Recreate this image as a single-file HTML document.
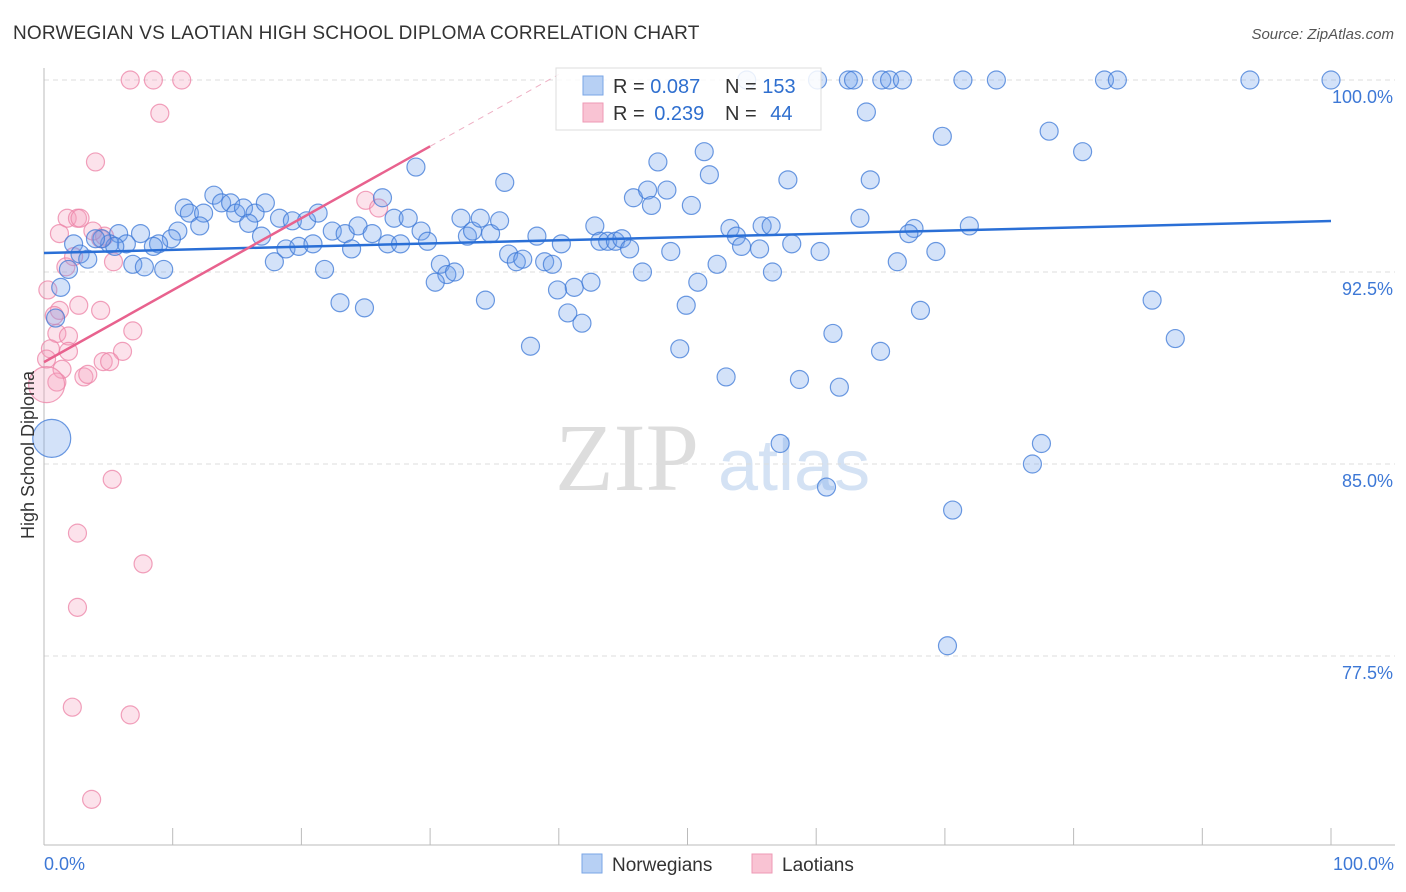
<!DOCTYPE html>
<html><head><meta charset="utf-8">
<style>
body{margin:0;background:#fff;font-family:"Liberation Sans",sans-serif;}
svg{display:block}
</style></head>
<body>
<svg id="chart" width="1406" height="892">
<text x="13" y="39" font-size="19" letter-spacing="0.2" fill="#333">NORWEGIAN VS LAOTIAN HIGH SCHOOL DIPLOMA CORRELATION CHART</text>
<text x="1394" y="39" font-size="15" fill="#555" font-style="italic" text-anchor="end">Source: ZipAtlas.com</text>
<g>
<text x="555" y="490" font-size="96" fill="#ddd" font-family="Liberation Serif,serif">ZIP</text>
<text x="718" y="490" font-size="72" fill="#d4e2f4">atlas</text>
</g>
<g id="grid"></g>
<g id="axes"></g>
<g id="pts"></g>
<g id="reg"></g>
<text x="34" y="455" font-size="18" fill="#333" text-anchor="middle" transform="rotate(-90 34 455)">High School Diploma</text>
<g>
<rect x="556" y="68" width="265" height="62" fill="#fff" fill-opacity="0.85" stroke="#ddd"/>
<rect x="583" y="76" width="20" height="19" fill="#b7d0f4" stroke="#7aa6e6"/>
<rect x="583" y="103" width="20" height="19" fill="#f9c3d3" stroke="#ee9ab5"/>
<text x="613" y="93" font-size="20" fill="#333">R = <tspan fill="#2f6fcf">0.087</tspan></text>
<text x="725" y="93" font-size="20" fill="#333">N = <tspan fill="#2f6fcf">153</tspan></text>
<text x="613" y="120" font-size="20" fill="#333">R = <tspan fill="#2f6fcf" dx="4">0.239</tspan></text>
<text x="725" y="120" font-size="20" fill="#333">N = <tspan fill="#2f6fcf" dx="8">44</tspan></text>
</g>
<g>
<rect x="582" y="854" width="20" height="19" fill="#b7d0f4" stroke="#7aa6e6"/>
<text x="612" y="871" font-size="19" fill="#333">Norwegians</text>
<rect x="752" y="854" width="20" height="19" fill="#f9c3d3" stroke="#ee9ab5"/>
<text x="782" y="871" font-size="19" fill="#333">Laotians</text>
</g>
</svg>
<script>
const yTicks=[100,92.5,85,77.5];
const yTickLabels=["100.0%","92.5%","85.0%","77.5%"];
const xTickLabels=["0.0%","100.0%"];
const blueX=[60.1,62.5,62.9,65.1,65.7,66.7,71.4,74.0,82.4,83.4,93.7,100,54.6,63.9,69.8,78.1,80.7,51.3,47.7,51.7,57.8,64.2,28.9,35.8,45.8,46.9,48.4,47.2,50.3,63.4,71.9,67.6,67.2,55.8,56.5,53.3,53.8,54.2,55.6,58.1,60.3,69.3,66.3,52.3,56.6,50.8,46.5,49.9,68.1,86.1,87.9,61.3,65.0,49.4,53.0,58.7,61.8,57.2,60.8,77.5,76.8,70.6,70.2,
10.9,11.3,12.4,13.2,13.8,14.5,14.9,15.5,16.4,17.2,15.9,16.9,18.3,19.3,20.4,21.3,12.1,10.4,9.9,8.9,8.5,7.5,5.8,6.4,5.1,5.5,4.5,4.0,2.3,2.8,3.4,1.9,1.3,0.9,0.6,6.9,7.8,9.3,17.9,18.8,19.8,20.9,21.8,22.4,23.4,23.9,24.4,25.5,26.3,26.7,27.2,27.7,28.3,29.3,29.8,30.8,31.3,31.9,30.4,23.0,24.9,32.4,32.9,33.3,33.9,34.7,35.4,36.1,36.7,37.2,38.3,38.9,39.5,40.2,39.9,40.7,41.2,41.8,42.5,42.8,43.2,43.8,44.4,44.9,45.5,48.7,34.3,37.8];
const blueY=[100,100,100,100,100,100,100,100,100,100,100,100,100,98.75,97.8,98.0,97.2,97.2,96.8,96.3,96.1,96.1,96.6,96.0,95.4,95.7,95.7,95.1,95.1,94.6,94.3,94.2,94.0,94.3,94.3,94.2,93.9,93.5,93.4,93.6,93.3,93.3,92.9,92.8,92.5,92.1,92.5,91.2,91.0,91.4,89.9,90.1,89.4,89.5,88.4,88.3,88.0,85.8,84.1,85.8,85.0,83.2,77.9,
95.0,94.8,94.8,95.5,95.2,95.2,94.8,95.0,94.8,95.2,94.4,93.9,94.6,94.5,94.5,94.8,94.3,94.1,93.8,93.6,93.5,94.0,94.0,93.6,93.6,93.5,93.8,93.8,93.6,93.2,93.0,92.6,91.9,90.7,86.0,92.8,92.7,92.6,92.9,93.4,93.5,93.6,92.6,94.1,94.0,93.4,94.3,94.0,95.4,93.6,94.6,93.6,94.6,94.1,93.7,92.8,92.4,92.5,92.1,91.3,91.1,94.6,93.9,94.1,94.6,94.0,94.5,93.2,92.9,93.0,93.9,92.9,92.8,93.6,91.8,90.9,91.9,90.5,92.1,94.3,93.7,93.7,93.7,93.8,93.4,93.3,91.4,89.6];
const blueBig=[86.0];
const pinkX=[6.7,8.5,10.7,9.0,4.0,1.8,2.6,2.8,1.2,4.4,4.7,3.8,1.7,2.3,5.4,0.3,2.7,4.4,1.2,0.8,1.0,1.9,6.9,0.5,1.9,6.1,0.2,4.6,5.1,1.4,3.1,3.4,1.0,0.2,5.3,2.6,7.7,2.6,2.2,6.7,3.7,25.0,26.0];
const pinkY=[100,100,100,98.7,96.8,94.6,94.6,94.6,94.0,93.8,93.9,94.1,92.7,93.1,92.9,91.8,91.2,91.0,91.0,90.8,90.1,90.0,90.2,89.5,89.4,89.4,89.1,89.0,89.0,88.7,88.4,88.5,88.2,88.1,84.4,82.3,81.1,79.4,75.5,75.2,71.9,95.3,95.0];
const pinkBig=[88.1];
const blueFit=[93.24,94.49];
const pinkFit=[88.98,0.281];
const NS="http://www.w3.org/2000/svg";
const X0=44,X1=1331,Y100=80,PXPER=25.6;
const sx=v=>X0+(X1-X0)*v/100;
const sy=v=>Y100+(100-v)*PXPER;
function mk(tag,attrs,parent){const e=document.createElementNS(NS,tag);for(const k in attrs)e.setAttribute(k,attrs[k]);parent.appendChild(e);return e;}
const grid=document.getElementById('grid'),axes=document.getElementById('axes'),pts=document.getElementById('pts'),reg=document.getElementById('reg');
yTicks.forEach((t,i)=>{
 const l=mk('line',{x1:X0,x2:1395,y1:sy(t),y2:sy(t),stroke:'#ddd','stroke-dasharray':'5,4'},grid);
 
 
 const tx=mk('text',{x:1393,y:sy(t)+23,'font-size':18,fill:'#3d78d6','text-anchor':'end'},axes);
 tx.textContent=yTickLabels[i];
 
 
});
const ax=mk('line',{x1:X0,x2:1395,y1:845,y2:845,stroke:'#bbb'},axes);


const ay=mk('line',{x1:X0,x2:X0,y1:68,y2:845,stroke:'#bbb'},axes);


for(let i=0;i<=10;i++){
 const t=mk('line',{x1:sx(i*10),x2:sx(i*10),y1:828,y2:845,stroke:'#bbb'},axes);
 
 
}
const xl0=mk('text',{x:44,y:870,'font-size':18,fill:'#3d78d6'},axes);
xl0.textContent=xTickLabels[0];


const xl1=mk('text',{x:1394,y:870,'font-size':18,fill:'#3d78d6','text-anchor':'end'},axes);
xl1.textContent=xTickLabels[1];


function drawPts(xs,ys,big,fill,stroke,name){
 xs.forEach((x,i)=>{
  const r=big.includes(ys[i])&&x<1?(name==='norwegian-point'?19:18):9;
  const c=mk('circle',{cx:sx(x),cy:sy(ys[i]),r:r,fill:fill,stroke:stroke,'stroke-width':1.2},pts);
  
  
 });
}
drawPts(pinkX,pinkY,pinkBig,'rgba(244,160,188,0.3)','rgba(236,130,165,0.75)','laotian-point');
drawPts(blueX,blueY,blueBig,'rgba(110,160,235,0.3)','rgba(60,120,215,0.75)','norwegian-point');
const bl=mk('line',{x1:sx(0),y1:sy(blueFit[0]),x2:sx(100),y2:sy(blueFit[1]),stroke:'#2a6fd6','stroke-width':2.5},reg);


const pl=mk('line',{x1:sx(0),y1:sy(pinkFit[0]),x2:sx(30),y2:sy(pinkFit[0]+pinkFit[1]*30),stroke:'#e8628e','stroke-width':2.5},reg);


const xe=40;
const pd=mk('line',{x1:sx(30),y1:sy(pinkFit[0]+pinkFit[1]*30),x2:sx(xe),y2:sy(pinkFit[0]+pinkFit[1]*xe),stroke:'#eeb0c4','stroke-width':1,'stroke-dasharray':'6,5'},reg);


</script>
</body></html>
